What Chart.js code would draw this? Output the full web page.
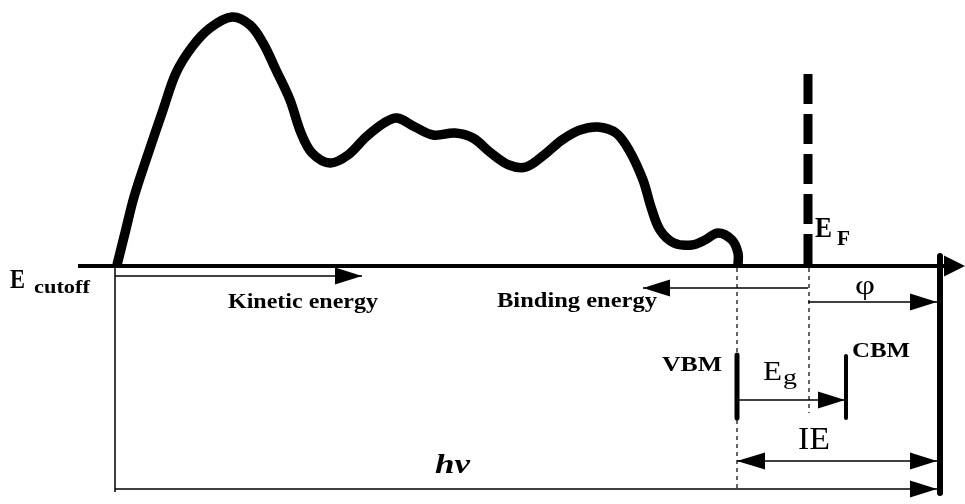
<!DOCTYPE html>
<html><head><meta charset="utf-8">
<style>html,body{margin:0;padding:0;background:#fff;}#wrap{width:965px;height:504px;}</style>
<script src="https://cdn.jsdelivr.net/npm/chart.js@4.4.1/dist/chart.umd.min.js"></script>
</head><body><div id="wrap"><canvas id="c" width="965" height="504"></canvas></div>
<script>
// ---- data (x = energy axis, y = intensity; negative y = rows of the energy diagram) ----
const specEnergy = [117,125,134,147,163,176,192,210,232,250,263,276,290,301,312,330,348,366,384,397,415,433,455,473,491,509,526,544,562,580,598,616,629,643,651,660,674,692,705,718,732,738,738];
const specIntensity = [1,33,69,109,156,193,219,238,249,241,223,196,166,133,113,103,111,129,143,148,139,131,133,128,113,101,99,111,126,136,139,133,116,86,59,36,23,21,26,33,26,13,1];
const E_CUTOFF = 115, E_VBM = 737, E_F = 808, E_CBM = 846, E_VAC = 940;
const fermiTop = 194;
const arrowStart = [E_CUTOFF, E_F, E_F, E_VBM, E_VBM, E_CUTOFF];
const arrowEnd   = [362, 643, 937, E_CBM - 1, 937, 937];
const arrowLevel = [-10, -22, -36, -134, -195, -223];
const arrowBoth  = [false, false, false, false, true, false];
const labelTexts = ['Kinetic energy', 'Binding energy', 'VBM', 'CBM', 'IE', 'hv', '\u03c6'];

const BLACK = '#000';
function seg(pts, extra) {
  return Object.assign({data: pts, showLine: true, pointRadius: 0, borderColor: BLACK, backgroundColor: BLACK, fill: false, tension: 0}, extra);
}
const datasets = [];
datasets.push(seg(specEnergy.map((x, i) => ({x, y: specIntensity[i]})), {borderWidth: 9.5, tension: 0.35, borderJoinStyle: 'round'}));
datasets.push(seg([{x: 78, y: 0}, {x: 950, y: 0}], {borderWidth: 4}));
datasets.push(seg([{x: E_F, y: 2}, {x: E_F, y: fermiTop}], {borderWidth: 9, borderDash: [30, 10]}));
datasets.push(seg([{x: E_CUTOFF, y: 0}, {x: E_CUTOFF, y: -226}], {borderWidth: 1.5}));
datasets.push(seg([{x: E_VAC, y: 10}, {x: E_VAC, y: -227}], {borderWidth: 6, borderCapStyle: 'round'}));
datasets.push(seg([{x: E_VBM, y: -89}, {x: E_VBM, y: -152}], {borderWidth: 5, borderCapStyle: 'round'}));
datasets.push(seg([{x: E_CBM, y: -90}, {x: E_CBM, y: -152}], {borderWidth: 4, borderCapStyle: 'round'}));
datasets.push(seg([{x: E_VBM, y: -2}, {x: E_VBM, y: -224}], {borderWidth: 1.2, borderDash: [4, 4]}));
datasets.push(seg([{x: E_F + 1, y: -2}, {x: E_F + 1, y: -147}], {borderWidth: 1.2, borderDash: [4, 4]}));
arrowStart.forEach((s, i) => {
  datasets.push(seg([{x: s, y: arrowLevel[i]}, {x: arrowEnd[i], y: arrowLevel[i]}], {borderWidth: 1.7}));
});

function head(ctx, tipX, y, dir, len, half) {
  ctx.beginPath();
  ctx.moveTo(tipX, y);
  ctx.lineTo(tipX - dir * len, y - half);
  ctx.lineTo(tipX - dir * len, y + half);
  ctx.closePath();
  ctx.fill();
}
function txt(ctx, t, left, base, font, width) {
  ctx.save();
  ctx.font = font;
  const w = ctx.measureText(t).width;
  ctx.translate(left, base);
  if (width) ctx.scale(width / w, 1);
  ctx.fillText(t, 0, 0);
  ctx.restore();
}

const overlay = {
  id: 'overlay',
  afterDatasetsDraw(chart) {
    const ctx = chart.ctx, xs = chart.scales.x, ys = chart.scales.y;
    const px = v => xs.getPixelForValue(v), py = v => ys.getPixelForValue(v);
    ctx.save();
    ctx.fillStyle = BLACK;
    head(ctx, px(965), py(0), 1, 21, 10.5);
    arrowStart.forEach((s, i) => {
      const dir = arrowEnd[i] > s ? 1 : -1;
      const y = py(arrowLevel[i]);
      head(ctx, px(arrowEnd[i]), y, dir, 27, 8.5);
      if (arrowBoth[i]) head(ctx, px(s), y, -dir, 28, 8.5);
    });
    ctx.textBaseline = 'alphabetic';
    const F = '"Liberation Serif", "Times New Roman", serif';
    txt(ctx, 'E', 10, 288, 'bold 27px ' + F, 15);
    txt(ctx, 'cutoff', 34, 293, 'bold 19px ' + F, 56);
    txt(ctx, labelTexts[0], 228, 308, 'bold 21px ' + F, 150);
    txt(ctx, labelTexts[1], 497, 307, 'bold 21px ' + F, 160);
    txt(ctx, labelTexts[2], 662, 371, 'bold 20px ' + F, 60);
    txt(ctx, labelTexts[3], 852, 357, 'bold 20px ' + F, 58);
    txt(ctx, 'E', 815, 237, 'bold 29px ' + F, 17);
    txt(ctx, 'F', 837, 245, 'bold 21px ' + F, 13);
    txt(ctx, labelTexts[6], 855, 294, '28px ' + F, 20);
    txt(ctx, 'E', 763, 380, '27px ' + F, 19);
    txt(ctx, 'g', 783, 384, '21px ' + F, 14);
    txt(ctx, labelTexts[4], 798, 449, '31px ' + F, 32);
    txt(ctx, labelTexts[5], 435, 473, 'italic bold 27px ' + F, 35);
    ctx.restore();
  }
};

new Chart(document.getElementById('c'), {
  type: 'scatter',
  data: {datasets},
  options: {
    responsive: false, animation: false, devicePixelRatio: 1, events: [],
    layout: {padding: 0},
    plugins: {legend: {display: false}, tooltip: {enabled: false}},
    scales: {
      x: {type: 'linear', min: 0, max: 965, display: false},
      y: {type: 'linear', min: -238, max: 266, display: false}
    }
  },
  plugins: [overlay]
});
</script></body></html>
